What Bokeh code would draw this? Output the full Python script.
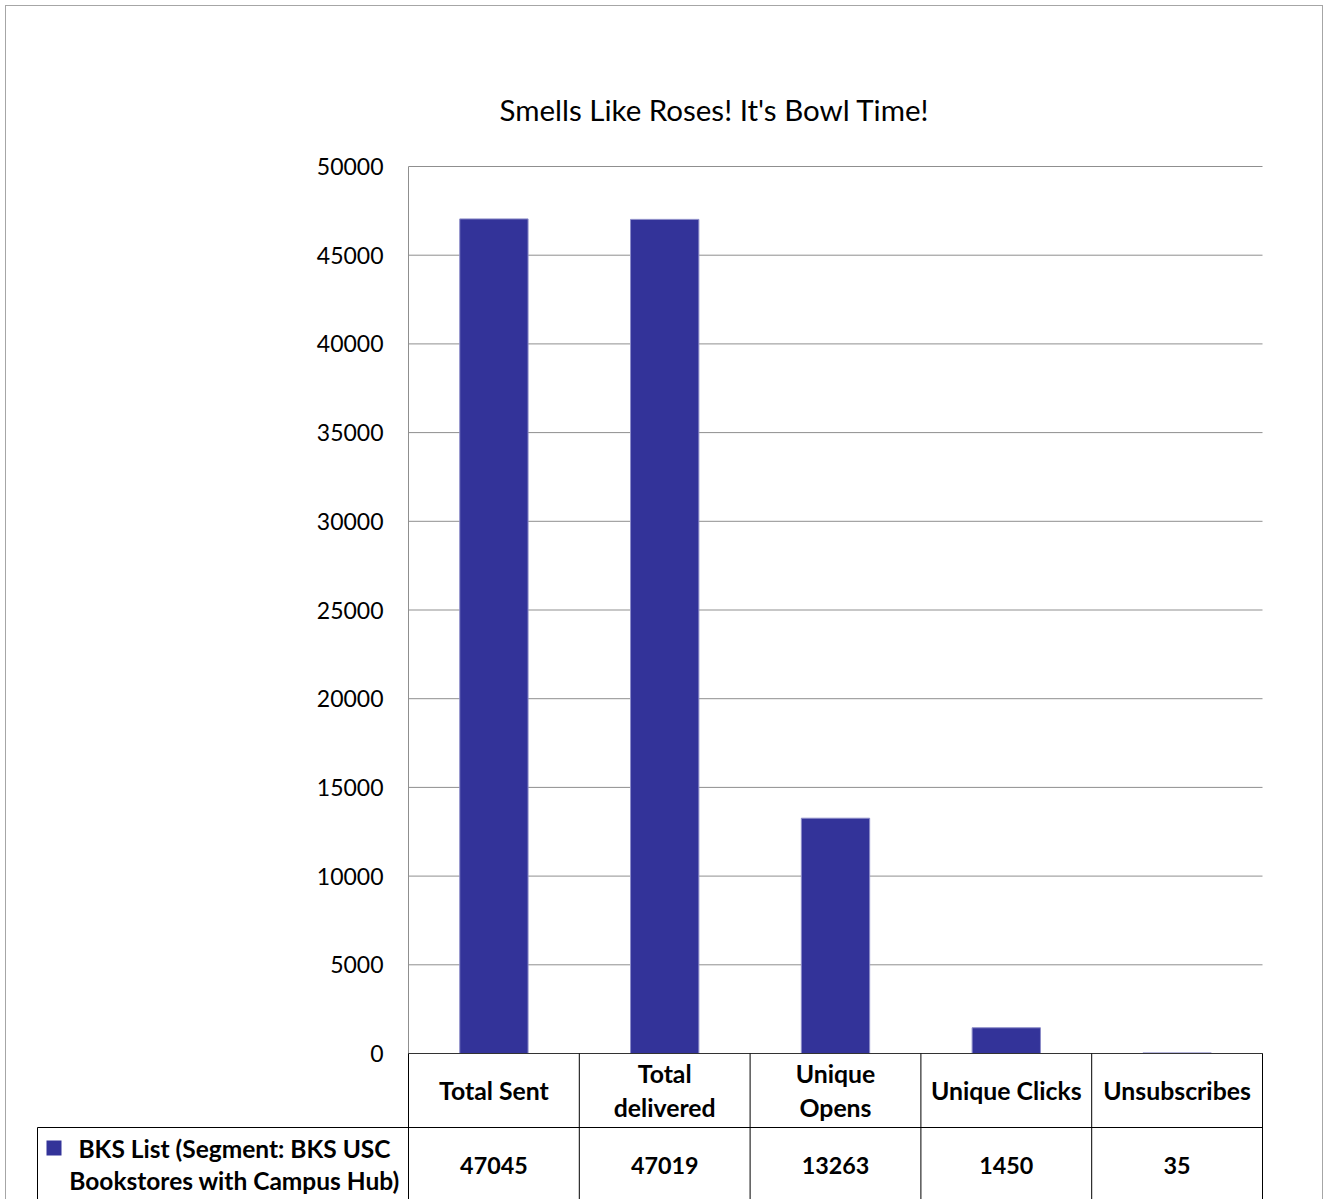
from bokeh.plotting import figure
from bokeh.models import (Range1d, FixedTicker, LinearAxis, Title, Column)
from bokeh.core.properties import value
from bokeh.embed import file_html
from bokeh.resources import INLINE

# ---- data ----
categories = ["Total Sent", "Total delivered", "Unique Opens", "Unique Clicks", "Unsubscribes"]
header_labels = ["Total Sent", "Total\ndelivered", "Unique\nOpens", "Unique Clicks", "Unsubscribes"]
values = [47045, 47019, 13263, 1450, 35]
series_label = "BKS List (Segment: BKS USC\nBookstores with Campus Hub)"
title_text = "Smells Like Roses! It's Bowl Time!"
y_ticks = [0, 5000, 10000, 15000, 20000, 25000, 30000, 35000, 40000, 45000, 50000]

FONT = "Lato"
BAR = "#333399"
GRID = "#8f8f8f"

# ---- layout constants (screen pixels) ----
ORG = 6                     # content origin (margin 5 + border 1)
W, H = 1316, 1193
SX_FRAME_L, SX_FRAME_R = 33, 1266
SX_PLOT_L, SX_PLOT_R = 408, 1262
SY_TOP_VAL, SY_ZERO = 166, 1053
SY_FRAME_T = 150
SY_BOTTOM = ORG + H
n = len(categories)
y_top = y_ticks[-1]
cat_w = (SX_PLOT_R - SX_PLOT_L) / n
per_px = y_top / (SY_ZERO - SY_TOP_VAL)


def xs(sx):
    return (sx - SX_PLOT_L) / cat_w


def ys(sy):
    return (SY_ZERO - sy) * per_px


p = figure(width=W, height=H,
           x_range=Range1d(xs(SX_FRAME_L), xs(SX_FRAME_R)),
           y_range=Range1d(ys(SY_BOTTOM), ys(SY_FRAME_T)),
           output_backend="svg", toolbar_location=None,
           min_border_left=SX_FRAME_L - ORG, min_border_right=ORG + W - SX_FRAME_R,
           min_border_top=SY_FRAME_T - ORG, min_border_bottom=0,
           x_axis_location=None, y_axis_location=None)
p.title = Title(text=title_text, text_font=FONT, text_font_size="29.5px",
                text_font_style="normal", align="left", offset=499 - SX_FRAME_L,
                standoff=48, text_color="#000000")
p.outline_line_color = None
p.grid.visible = False

yaxis = LinearAxis(ticker=FixedTicker(ticks=y_ticks), fixed_location=0)
yaxis.major_tick_out = 0
yaxis.major_tick_in = 0
yaxis.minor_tick_out = 0
yaxis.minor_tick_in = 0
yaxis.axis_line_color = None
yaxis.major_label_standoff = 25
yaxis.major_label_text_font = FONT
yaxis.major_label_text_font_size = "23px"
yaxis.major_label_text_color = "#000000"
p.add_layout(yaxis, "left")

# grid lines and plot-area left border
p.segment(x0=[0] * len(y_ticks), y0=y_ticks, x1=[n] * len(y_ticks), y1=y_ticks,
          line_color=GRID, line_width=1)
p.segment(x0=[0], y0=[0], x1=[0], y1=[y_top], line_color=GRID, line_width=1)

# bars
xc = [i + 0.5 for i in range(n)]
p.vbar(x=xc, top=values, bottom=0, width=0.4, fill_color=BAR,
       line_color="#8c8cc8", line_width=1)

# ---- data table ----
y_bot = ys(SY_BOTTOM + 3)
y_row = ys(1127)
leg_left = xs(37)
p.segment(x0=[0], y0=[0], x1=[n], y1=[0], line_color="#333333", line_width=1)
p.segment(x0=list(range(n + 1)), y0=[0] * (n + 1), x1=list(range(n + 1)),
          y1=[y_bot] * (n + 1), line_color="#000000", line_width=1)
p.segment(x0=[leg_left], y0=[y_row], x1=[n], y1=[y_row],
          line_color="#000000", line_width=1)
p.segment(x0=[leg_left], y0=[y_row], x1=[leg_left], y1=[y_bot],
          line_color="#000000", line_width=1)

p.text(x=xc, y=[ys(1090)] * n, text=header_labels, text_font=value(FONT),
       text_font_size="24.8px", text_font_style="bold", text_align="center",
       text_baseline="middle", text_line_height=1.14, text_color="#000000")
p.text(x=xc, y=[ys(1165)] * n, text=[str(v) for v in values], text_font=value(FONT),
       text_font_size="23.3px", text_font_style="bold", text_align="center",
       text_baseline="middle", text_color="#000000")
# legend
p.scatter(x=[xs(53.5)], y=[ys(1147.5)], marker="square", size=15,
          fill_color=BAR, line_color=None)
p.text(x=[xs(234)], y=[ys(1164)], text=[series_label],
       text_font=value(FONT), text_font_size="24.5px", text_font_style="bold",
       text_align="center", text_baseline="middle", text_line_height=1.13,
       text_color="#000000")

layout = Column(children=[p],
                styles={"margin-left": "5px", "margin-top": "5px",
                        "border-top": "1px solid #a6a6a6",
                        "border-left": "1px solid #a6a6a6",
                        "border-right": "1px solid #a6a6a6"})

open("out.html", "w").write(file_html(layout, INLINE))
